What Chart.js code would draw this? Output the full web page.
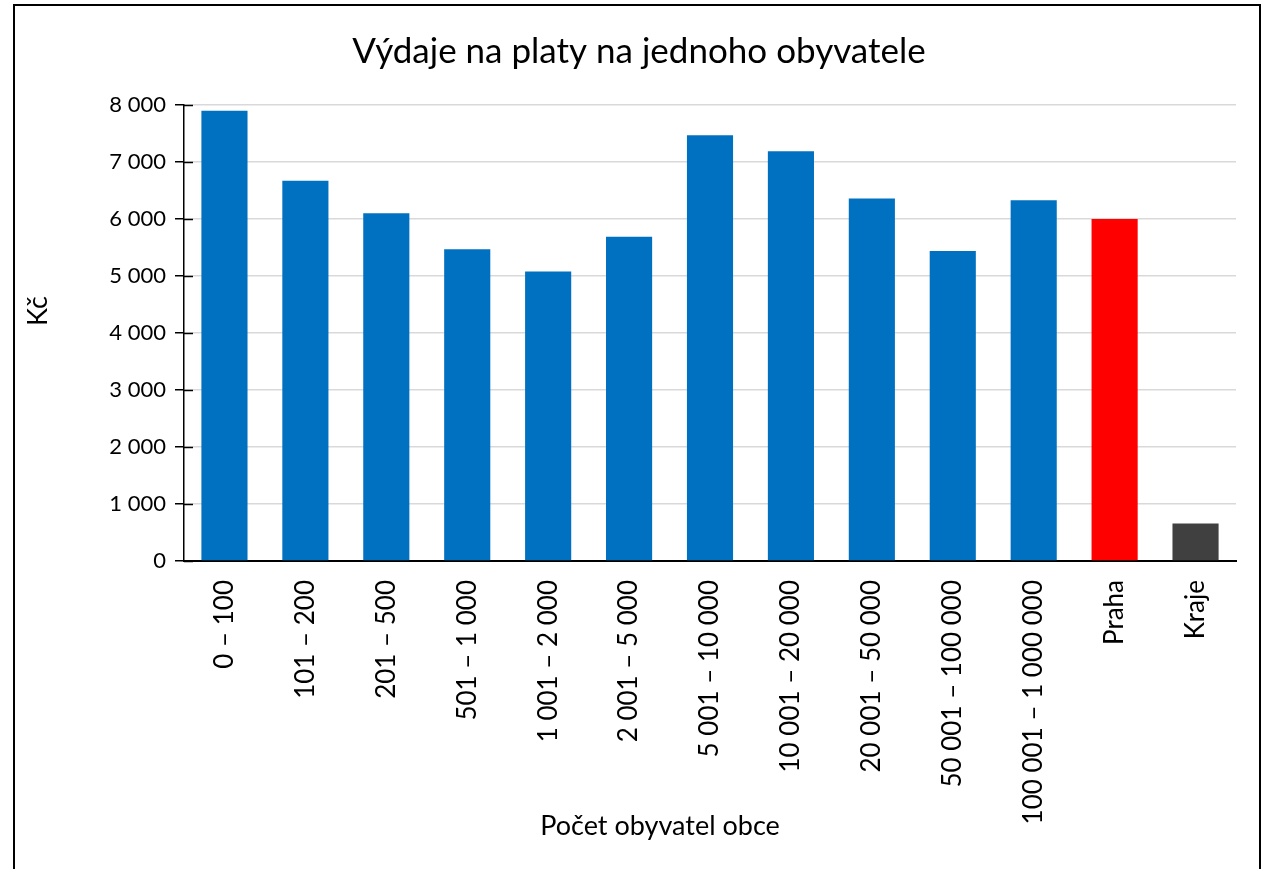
<!DOCTYPE html>
<html>
<head>
<meta charset="utf-8">
<script src="https://cdn.jsdelivr.net/npm/chart.js@4/dist/chart.umd.min.js"></script>
<style>
  html, body { margin: 0; padding: 0; background: #fff; overflow: hidden; }
  #wrap { position: relative; width: 1271px; height: 869px; }
  #frame { position: absolute; left: 13px; top: 4px; width: 1248px; height: 900px; border: 2px solid #000; box-sizing: border-box; pointer-events: none; }
  canvas { position: absolute; left: 0; top: 0; }
</style>
</head>
<body>
<div id="wrap">
  <canvas id="c" width="1271" height="869"></canvas>
  <div id="frame"></div>
</div>
<script>
const categories = ["0 – 100", "101 – 200", "201 – 500", "501 – 1 000", "1 001 – 2 000", "2 001 – 5 000", "5 001 – 10 000", "10 001 – 20 000", "20 001 – 50 000", "50 001 – 100 000", "100 001 – 1 000 000", "Praha", "Kraje"];
const values = [7900, 6670, 6100, 5470, 5080, 5690, 7470, 7190, 6360, 5440, 6330, 6000, 660];
const barColors = ["#0070C0", "#0070C0", "#0070C0", "#0070C0", "#0070C0", "#0070C0", "#0070C0", "#0070C0", "#0070C0", "#0070C0", "#0070C0", "#FF0000", "#404040"];
const yTicks = [0, 1000, 2000, 3000, 4000, 5000, 6000, 7000, 8000];
const chartTitle = "Výdaje na platy na jednoho obyvatele";
const xTitle = "Počet obyvatel obce";
const yTitle = "Kč";

const FONT = "Lato, 'Open Sans', sans-serif";

function fmt(v) {
  return String(v).replace(/\B(?=(\d{3})+(?!\d))/g, " ");
}

const extras = {
  id: "extras",
  afterDraw(chart) {
    const ctx = chart.ctx;
    const y = chart.scales.y;
    const x = chart.scales.x;
    ctx.save();
    ctx.strokeStyle = "#000";
    ctx.lineWidth = 1.5;
    yTicks.forEach(t => {
      const py = Math.round(y.getPixelForValue(t)) + 0.5;
      ctx.beginPath();
      ctx.moveTo(x.left, py);
      ctx.lineTo(x.left + 9, py);
      ctx.stroke();
    });
    ctx.fillStyle = "#000";
    ctx.font = "27px " + FONT;
    ctx.textAlign = "center";
    ctx.textBaseline = "middle";
    ctx.fillText(xTitle, 660, 826);
    ctx.translate(38, 311);
    ctx.rotate(-Math.PI / 2);
    ctx.fillText(yTitle, 0, 0);
    ctx.restore();
  }
};

new Chart(document.getElementById("c"), {
  type: "bar",
  data: {
    labels: categories,
    datasets: [{
      data: values,
      backgroundColor: barColors,
      borderWidth: 0,
      categoryPercentage: 1,
      barPercentage: 0.57
    }]
  },
  options: {
    responsive: false,
    animation: false,
    layout: { padding: { left: 42, right: 35, top: 0, bottom: 0 } },
    plugins: {
      legend: { display: false },
      tooltip: { enabled: false },
      title: {
        display: true,
        text: chartTitle,
        color: "#000",
        font: { family: FONT, size: 35, weight: "normal" },
        padding: { top: 31, bottom: 32 }
      }
    },
    scales: {
      x: {
        grid: { display: false, drawTicks: false },
        border: { display: true, color: "#000", width: 2 },
        ticks: {
          color: "#000",
          font: { family: FONT, size: 26 },
          minRotation: 90,
          maxRotation: 90,
          autoSkip: false,
          padding: 19
        },
        afterFit(s) { s.height = 308; }
      },
      y: {
        min: 0,
        max: 8000,
        afterBuildTicks(s) { s.ticks = yTicks.map(v => ({ value: v })); },
        grid: {
          color: ctx => (ctx.tick && ctx.tick.value === 0) ? "#000" : "#d9d9d9",
          lineWidth: 1.5,
          drawTicks: true,
          tickLength: 9,
          tickColor: "#000"
        },
        border: { display: true, color: "#000", width: 1.5 },
        ticks: {
          color: "#000",
          font: { family: FONT, size: 22 },
          padding: 9,
          callback: v => fmt(v)
        },
        afterFit(s) { s.width = 142; }
      }
    }
  },
  plugins: [extras]
});
</script>
</body>
</html>
